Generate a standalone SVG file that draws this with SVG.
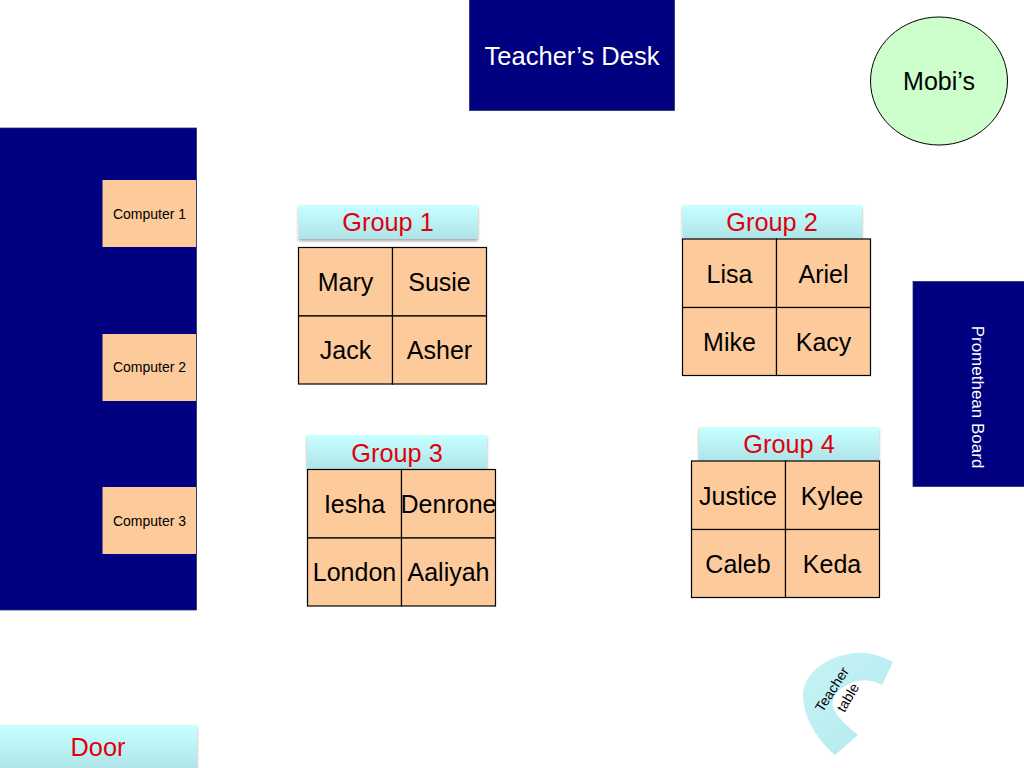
<svg xmlns="http://www.w3.org/2000/svg" width="1024" height="768" viewBox="0 0 1024 768">
<defs>
<linearGradient id="aqua" x1="0" y1="0" x2="0" y2="1"><stop offset="0" stop-color="#c8ffff"/><stop offset="1" stop-color="#aee4e8"/></linearGradient>
<linearGradient id="arcg" x1="0" y1="0" x2="1" y2="1"><stop offset="0" stop-color="#c6f4f6"/><stop offset="1" stop-color="#b4e8ec"/></linearGradient>
<filter id="sh" x="-10%" y="-20%" width="120%" height="150%"><feDropShadow dx="0" dy="2" stdDeviation="1.6" flood-color="#000" flood-opacity="0.35"/></filter>
</defs>
<style>
text{font-family:"Liberation Sans",Arial,sans-serif;text-anchor:middle}
.navy{fill:#000080;stroke:#1f2a66;stroke-width:.75}
.cell{fill:#fdcb9b;stroke:#000;stroke-width:1.2}
.comp{fill:#fdcb9b}
.name{font-size:25px;fill:#000}
.label{fill:url(#aqua);filter:url(#sh)}
.red{font-size:25.300px;fill:#e0000c}
.white{font-size:25.500px;fill:#fff}
.small{font-size:14px;fill:#000}
</style>
<rect width="1024" height="768" fill="#fff"/>
<g id="teacher-desk"><rect class="navy" x="469.500" y="-1" width="205" height="111.500"/><text class="white" x="572" y="65">Teacher’s Desk</text></g>
<g id="mobis"><ellipse cx="939" cy="81" rx="68.500" ry="64" fill="#ccffcc" stroke="#000" stroke-width="1"/><text class="name" x="939" y="90">Mobi’s</text></g>
<g id="computers-bench"><rect class="navy" x="-1" y="128" width="197.500" height="482"/></g>
<g id="computer-1"><rect class="comp" x="102.500" y="180" width="93.500" height="67"/><text class="small" x="149.500" y="218.500">Computer 1</text></g>
<g id="computer-2"><rect class="comp" x="102.500" y="334" width="93.500" height="67"/><text class="small" x="149.500" y="372">Computer 2</text></g>
<g id="computer-3"><rect class="comp" x="102.500" y="487" width="93.500" height="67"/><text class="small" x="149.500" y="525.500">Computer 3</text></g>
<g id="group-1-label"><rect class="label" x="298.500" y="205" width="179.500" height="34"/><text class="red" x="388" y="231">Group 1</text></g>
<g id="group-1-table">
<rect class="cell" x="298.500" y="247.500" width="94" height="68.500"/><rect class="cell" x="392.500" y="247.500" width="94" height="68.500"/><rect class="cell" x="298.500" y="316" width="94" height="68"/><rect class="cell" x="392.500" y="316" width="94" height="68"/>
<text class="name" x="345.500" y="291">Mary</text><text class="name" x="439.500" y="291">Susie</text><text class="name" x="345.500" y="359">Jack</text><text class="name" x="439.500" y="359">Asher</text></g>
<g id="group-2-label"><rect class="label" x="682.500" y="205" width="179.500" height="34"/><text class="red" x="772" y="231">Group 2</text></g>
<g id="group-2-table">
<rect class="cell" x="682.500" y="239" width="94" height="68.500"/><rect class="cell" x="776.500" y="239" width="94" height="68.500"/><rect class="cell" x="682.500" y="307.500" width="94" height="68"/><rect class="cell" x="776.500" y="307.500" width="94" height="68"/>
<text class="name" x="729.500" y="283">Lisa</text><text class="name" x="823.500" y="283">Ariel</text><text class="name" x="729.500" y="351">Mike</text><text class="name" x="823.500" y="351">Kacy</text></g>
<g id="group-3-label"><rect class="label" x="307" y="435" width="180" height="34"/><text class="red" x="397" y="462">Group 3</text></g>
<g id="group-3-table">
<rect class="cell" x="307.500" y="469.500" width="94" height="68.500"/><rect class="cell" x="401.500" y="469.500" width="94" height="68.500"/><rect class="cell" x="307.500" y="538" width="94" height="68"/><rect class="cell" x="401.500" y="538" width="94" height="68"/>
<text class="name" x="354.500" y="513">Iesha</text><text class="name" x="448.500" y="513">Denrone</text><text class="name" x="354.500" y="581">London</text><text class="name" x="448.500" y="581">Aaliyah</text></g>
<g id="group-4-label"><rect class="label" x="699" y="427" width="180" height="34"/><text class="red" x="789" y="453">Group 4</text></g>
<g id="group-4-table">
<rect class="cell" x="691.500" y="461" width="94" height="68.500"/><rect class="cell" x="785.500" y="461" width="94" height="68.500"/><rect class="cell" x="691.500" y="529.500" width="94" height="68"/><rect class="cell" x="785.500" y="529.500" width="94" height="68"/>
<text class="name" x="738" y="505">Justice</text><text class="name" x="832" y="505">Kylee</text><text class="name" x="738" y="573">Caleb</text><text class="name" x="832" y="573">Keda</text></g>
<g id="promethean-board"><rect class="navy" x="913" y="281.500" width="112" height="205"/><text x="0" y="0" font-size="17" fill="#fff" transform="translate(971.500,397) rotate(90)">Promethean Board</text></g>
<g id="door"><rect class="label" x="-2" y="725" width="199" height="46"/><text class="red" x="98" y="756">Door</text></g>
<g id="teacher-table"><path d="M893,662 C878,654 865,652 855,653 C825,656 803,675 803,695 C803,715 815,738 835,755 L858,735 C842,722 830,710 833,700 C836,688 860,672 882,685 Z" fill="url(#arcg)"/>
<text class="small" transform="translate(836,692) rotate(-57)">Teacher</text><text class="small" transform="translate(852,700) rotate(-60)">table</text></g>
</svg>
